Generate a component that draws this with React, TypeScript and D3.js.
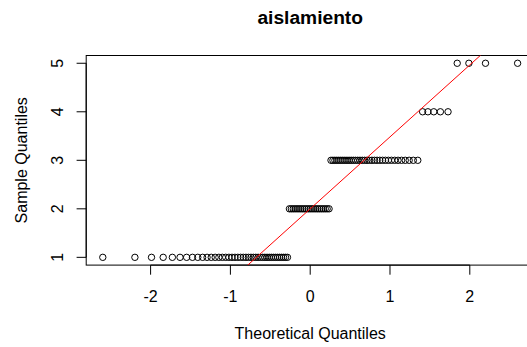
import React from "react";
import * as d3 from "d3";

// Sample values (aislamiento) and how many times each appears
const sampleValues = [1, 2, 3, 4, 5];
const sampleCounts = [42, 22, 34, 5, 4];
const xTicks = [-2, -1, 0, 1, 2];
const yTicks = [1, 2, 3, 4, 5];
const title = "aislamiento";
const xLabel = "Theoretical Quantiles";
const yLabel = "Sample Quantiles";

// inverse standard normal CDF (Acklam)
function qnorm(p: number): number {
  const a = [-39.6968302866538, 220.946098424521, -275.928510446969, 138.357751867269, -30.6647980661472, 2.50662827745924];
  const b = [-54.4760987982241, 161.585836858041, -155.698979859887, 66.8013118877197, -13.2806815528857];
  const c = [-0.00778489400243029, -0.322396458041136, -2.40075827716184, -2.54973253934373, 4.37466414146497, 2.93816398269878];
  const dd = [0.00778469570904146, 0.32246712907004, 2.445134137143, 3.75440866190742];
  const pl = 0.02425;
  if (p < pl) {
    const q = Math.sqrt(-2 * Math.log(p));
    return (((((c[0] * q + c[1]) * q + c[2]) * q + c[3]) * q + c[4]) * q + c[5]) /
      ((((dd[0] * q + dd[1]) * q + dd[2]) * q + dd[3]) * q + 1);
  }
  if (p > 1 - pl) {
    const q = Math.sqrt(-2 * Math.log(1 - p));
    return -(((((c[0] * q + c[1]) * q + c[2]) * q + c[3]) * q + c[4]) * q + c[5]) /
      ((((dd[0] * q + dd[1]) * q + dd[2]) * q + dd[3]) * q + 1);
  }
  const q = p - 0.5;
  const r = q * q;
  return (((((a[0] * r + a[1]) * r + a[2]) * r + a[3]) * r + a[4]) * r + a[5]) * q /
    (((((b[0] * r + b[1]) * r + b[2]) * r + b[3]) * r + b[4]) * r + 1);
}

export default function App() {
  const W = 527, H = 347;
  const sample: number[] = [];
  sampleValues.forEach((v, i) => {
    for (let k = 0; k < sampleCounts[i]; k++) sample.push(v);
  });
  const n = sample.length;
  const pts = sample.map((v, i) => ({ x: qnorm((i + 1 - 0.5) / n), y: v }));

  const xmin = d3.min(pts, d => d.x)!, xmax = d3.max(pts, d => d.x)!;
  const xr = xmax - xmin;
  const ymin = 1, ymax = 5, yr = ymax - ymin;

  const left = 86.2, right = 534.2, top = 55.5, bottom = 265.1;
  const xs = d3.scaleLinear().domain([xmin - 0.04 * xr, xmax + 0.04 * xr]).range([left, right]);
  const ys = d3.scaleLinear().domain([ymin - 0.04 * yr, ymax + 0.04 * yr]).range([bottom, top]);

  // qqline through quartiles
  const q1 = d3.quantile(sample, 0.25)!, q3 = d3.quantile(sample, 0.75)!;
  const x1 = qnorm(0.25), x3 = qnorm(0.75);
  const slope = (q3 - q1) / (x3 - x1);
  const intercept = q1 - slope * x1;
  const [dx0, dx1] = xs.domain();
  const lineGen = d3.line<[number, number]>().x(d => xs(d[0])).y(d => ys(d[1]));
  const lineD = lineGen([[dx0, intercept + slope * dx0], [dx1, intercept + slope * dx1]]);

  const font = "'Liberation Sans', Arial, sans-serif";
  const tick = 9.6;

  return (
    <svg width={W} height={H} style={{ position: "absolute", left: 0, top: 0, background: "#fff" }} fontFamily={font}>
      <defs>
        <clipPath id="plotclip">
          <rect x={left} y={top} width={right - left} height={bottom - top} />
        </clipPath>
      </defs>
      <rect x={0} y={0} width={W} height={H} fill="#fff" />
      <text x={(left + right) / 2} y={23.5} textAnchor="middle" fontSize={19.2} fontWeight="bold">{title}</text>
      <rect x={left} y={top} width={right - left} height={bottom - top} fill="none" stroke="#000" strokeWidth={1} />
      {/* x axis */}
      <line x1={xs(xTicks[0])} x2={xs(xTicks[xTicks.length - 1])} y1={bottom} y2={bottom} stroke="#000" />
      {xTicks.map(t => (
        <g key={"x" + t}>
          <line x1={xs(t)} x2={xs(t)} y1={bottom} y2={bottom + tick} stroke="#000" />
          <text x={xs(t)} y={302} textAnchor="middle" fontSize={16}>{t}</text>
        </g>
      ))}
      {/* y axis */}
      <line x1={left} x2={left} y1={ys(yTicks[0])} y2={ys(yTicks[yTicks.length - 1])} stroke="#000" />
      {yTicks.map(t => (
        <g key={"y" + t}>
          <line x1={left - tick} x2={left} y1={ys(t)} y2={ys(t)} stroke="#000" />
          <text transform={`translate(${63},${ys(t)}) rotate(-90)`} textAnchor="middle" fontSize={16}>{t}</text>
        </g>
      ))}
      <text x={(left + right) / 2} y={339} textAnchor="middle" fontSize={16}>{xLabel}</text>
      <text transform={`translate(${27},${(top + bottom) / 2}) rotate(-90)`} textAnchor="middle" fontSize={16}>{yLabel}</text>
      <g clipPath="url(#plotclip)">
        {pts.map((p, i) => (
          <circle key={i} cx={xs(p.x)} cy={ys(p.y)} r={3.2} fill="none" stroke="#000" strokeWidth={1} />
        ))}
        <path d={lineD || ""} stroke="#ff0000" strokeWidth={1} fill="none" />
      </g>
    </svg>
  );
}
